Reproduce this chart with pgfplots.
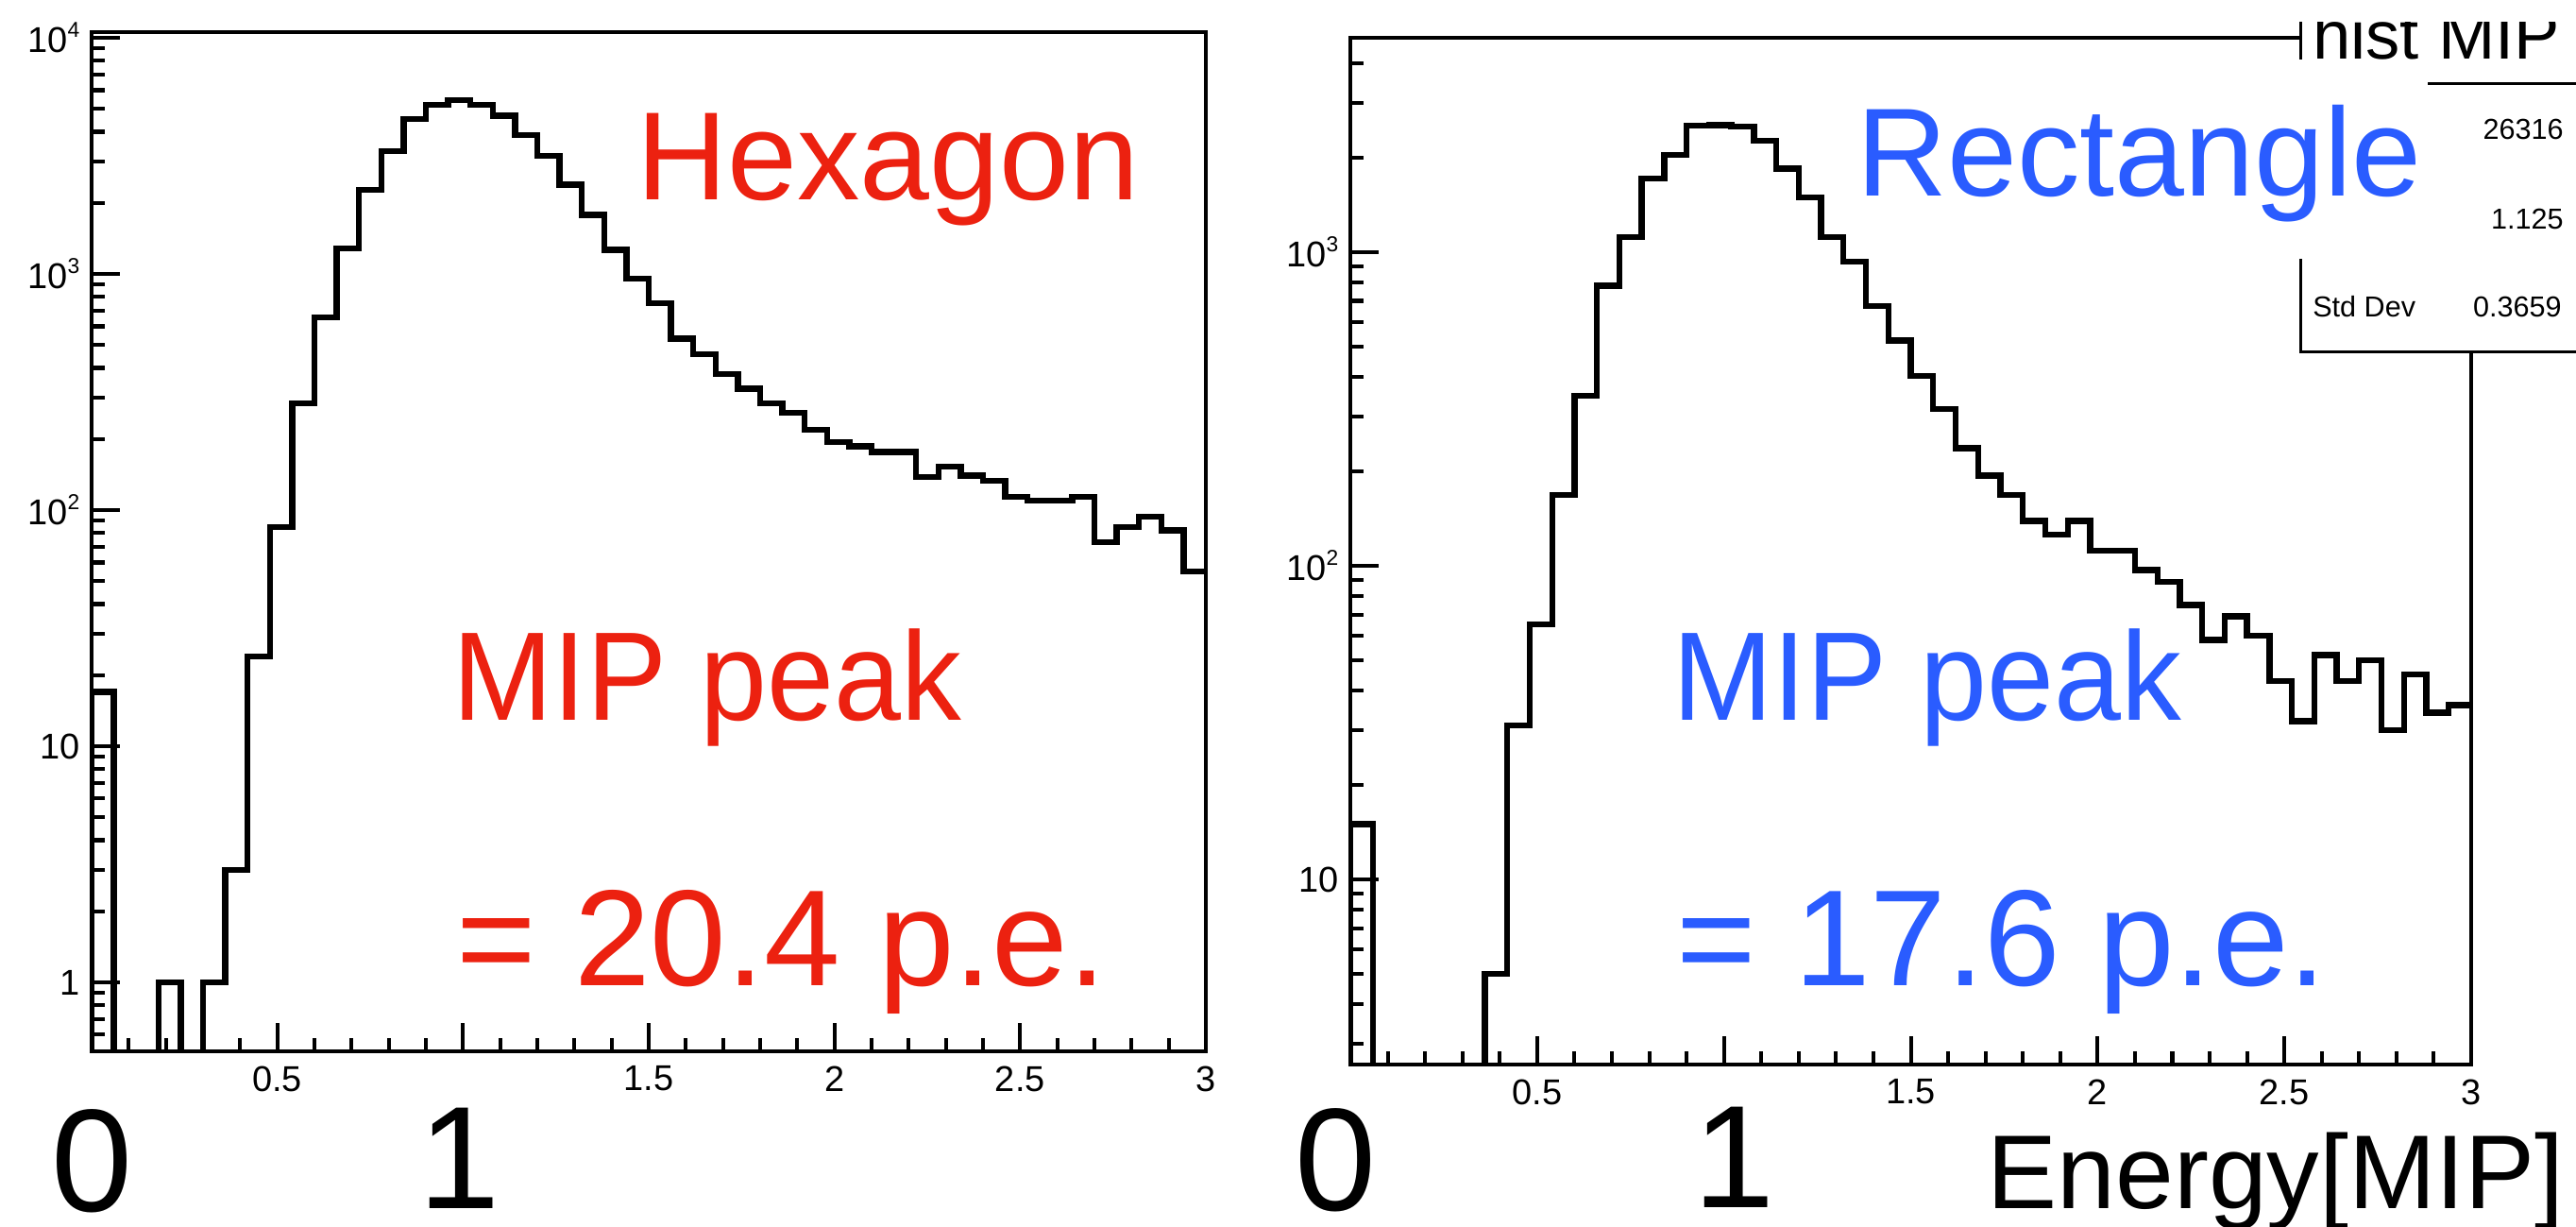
\documentclass[border=0pt]{standalone}
\usepackage{pgfplots}
\pgfplotsset{compat=1.18}
\usepackage{fontspec}
\setmainfont{Liberation Sans}
\definecolor{hexred}{RGB}{236,33,16}
\definecolor{recblue}{RGB}{42,92,255}
\newcommand{\fs}[1]{\fontsize{#1}{#1}\selectfont}
\newcommand{\tp}[1]{10\raisebox{0.42em}{\fontsize{6.5}{7}\selectfont #1}}
\pgfplotsset{rootaxis/.style={
  scale only axis, xmin=0, xmax=3,
  axis line style={line width=1.3pt},
  every tick/.style={black, line width=1.15pt},
  xtick pos=bottom, ytick pos=left, tick align=inside,
  major tick length=0.30cm, minor tick length=0.14cm,
  xtick={0,0.5,1,1.5,2,2.5,3},
  xticklabels={,0.5,,1.5,2,2.5,3},
  minor x tick num=4,
  tick label style={font=\fs{10.8}, inner sep=0pt},
  xticklabel style={anchor=north, yshift=-0.15cm},
  yticklabel style={anchor=east, xshift=-0.12cm},
}}
\begin{document}
\begin{tikzpicture}
\path[use as bounding box] (0,0) rectangle (27.28cm,12.98cm);

\begin{semilogyaxis}[rootaxis, at={(0.97cm,1.85cm)}, anchor=south west,
  width=11.80cm, height=10.79cm, ymin=0.5105, ymax=10570,
  ytick={1,10,100,1000,10000},
  yticklabels={1,10,\tp{2},\tp{3},\tp{4}},
  minor ytick={0.6,0.7,0.8,0.9,2,3,4,5,6,7,8,9,20,30,40,50,60,70,80,90,200,300,400,500,600,700,800,900,2000,3000,4000,5000,6000,7000,8000,9000}]
\addplot[no marks, black, line width=1.8pt, const plot mark left] coordinates {
(0,0.001) (0,17) (0.06,0.001) (0.12,0.001) (0.18,1) (0.24,0.001) (0.30,1) (0.36,3) (0.42,24) (0.48,85)
(0.54,283) (0.60,655) (0.66,1282) (0.72,2270) (0.78,3311) (0.84,4520) (0.90,5190) (0.96,5460) (1.02,5190) (1.08,4680)
(1.14,3870) (1.20,3160) (1.26,2385) (1.32,1780) (1.38,1265) (1.44,955) (1.50,750) (1.56,532) (1.62,457) (1.68,377)
(1.74,327) (1.80,283) (1.86,258) (1.92,219) (1.98,194) (2.04,186) (2.10,176) (2.16,176) (2.22,138) (2.28,153)
(2.34,140) (2.40,133) (2.46,114) (2.52,110) (2.58,110) (2.64,114) (2.70,73) (2.76,85) (2.82,94) (2.88,82)
(2.94,55) (3.00,55)};
\end{semilogyaxis}

\begin{semilogyaxis}[rootaxis, at={(14.30cm,1.71cm)}, anchor=south west,
  width=11.87cm, height=10.87cm, ymin=2.57, ymax=4830,
  ytick={10,100,1000},
  yticklabels={10,\tp{2},\tp{3}},
  minor ytick={3,4,5,6,7,8,9,20,30,40,50,60,70,80,90,200,300,400,500,600,700,800,900,2000,3000,4000}]
\addplot[no marks, black, line width=1.8pt, const plot mark left] coordinates {
(0,0.001) (0,15) (0.06,0.001) (0.12,0.001) (0.18,0.001) (0.24,0.001) (0.30,0.001) (0.36,5) (0.42,31) (0.48,65)
(0.54,168) (0.60,349) (0.66,782) (0.72,1119) (0.78,1722) (0.84,2046) (0.90,2530) (0.96,2540) (1.02,2520) (1.08,2265)
(1.14,1850) (1.20,1494) (1.26,1119) (1.32,933) (1.38,673) (1.44,523) (1.50,403) (1.56,316) (1.62,237) (1.68,194)
(1.74,168) (1.80,139) (1.86,126) (1.92,139) (1.98,112) (2.04,112) (2.10,97) (2.16,89) (2.22,75) (2.28,58)
(2.34,69) (2.40,60) (2.46,43) (2.52,32) (2.58,52) (2.64,43) (2.70,50) (2.76,30) (2.82,45) (2.88,34)
(2.94,36) (3.00,36)};
\end{semilogyaxis}

\begin{scope}[x=0.01cm,y=0.01cm]
% stats box
\fill[white] (2438,926) rectangle (2728,1298);
\draw[line width=0.9pt] (2438,1300) -- (2438,926) -- (2730,926);
\draw[line width=0.9pt] (2438,1210) -- (2730,1210);
\node[anchor=base west, inner sep=0, font=\fs{20.6}] at (2450,1236) {hist MIP};
\node[anchor=base east, inner sep=0, font=\fs{8.7}] at (2717,1151) {26316};
\node[anchor=base east, inner sep=0, font=\fs{8.7}] at (2717,1056) {1.125};
\node[anchor=base west, inner sep=0, font=\fs{8.7}] at (2450,963) {Std Dev};
\node[anchor=base east, inner sep=0, font=\fs{8.7}] at (2715,963) {0.3659};
\fill[white] (2430,1276) rectangle (2740,1310);
% white box behind Rectangle
\fill[white] (1965,1025) rectangle (2572,1236);
% overlay texts
\node[anchor=base west, inner sep=0, text=hexred, font=\fs{37.8}] at (674,1087) {Hexagon};
\node[anchor=base west, inner sep=0, text=hexred, font=\fs{38}] at (479,536) {\scalebox{0.955}[1]{MIP peak}};
\node[anchor=base west, inner sep=0, text=hexred, font=\fs{41.2}] at (483,255) {= 20.4 p.e.};
\node[anchor=base west, inner sep=0, text=recblue, font=\fs{37.8}] at (1967,1091) {Rectangle};
\node[anchor=base west, inner sep=0, text=recblue, font=\fs{38}] at (1772,536) {\scalebox{0.955}[1]{MIP peak}};
\node[anchor=base west, inner sep=0, text=recblue, font=\fs{41.2}] at (1776,255) {= 17.6 p.e.};
% big axis labels
\node[anchor=base west, inner sep=0, text depth=0pt, font=\fs{44}] at (54,16) {0};
\node[anchor=base west, inner sep=0, text depth=0pt, font=\fs{44}] at (443,19) {1};
\node[anchor=base west, inner sep=0, text depth=0pt, font=\fs{44}] at (1372,17) {0};
\node[anchor=base west, inner sep=0, text depth=0pt, font=\fs{44}] at (1794,20) {1};
\node[anchor=base west, inner sep=0, text depth=0pt, font=\fs{31.6}] at (2105,19) {Energy[MIP]};
\end{scope}
\end{tikzpicture}
\end{document}
